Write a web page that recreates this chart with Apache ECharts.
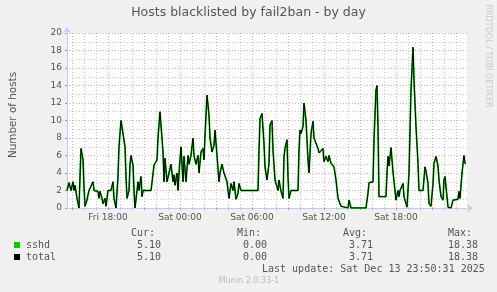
<!DOCTYPE html>
<html>
<head>
<meta charset="utf-8">
<script src="https://cdn.jsdelivr.net/npm/echarts@6/dist/echarts.min.js"></script>
<style>
html,body{margin:0;padding:0;background:#f0f0f0;}
#c{width:497px;height:292px;}
</style>
</head>
<body>
<div id="c"></div>
<script>
// ---- data ----
const times = [
"Fri 14:35","Fri 14:45","Fri 14:50","Fri 14:55","Fri 15:05","Fri 15:10","Fri 15:15","Fri 15:25","Fri 15:35","Fri 15:40",
"Fri 15:45","Fri 15:55","Fri 16:00","Fri 16:05","Fri 16:15","Fri 16:20","Fri 16:25","Fri 16:35","Fri 16:45","Fri 16:50",
"Fri 17:00","Fri 17:10","Fri 17:15","Fri 17:20","Fri 17:30","Fri 17:35","Fri 17:45","Fri 17:50","Fri 18:00","Fri 18:05",
"Fri 18:15","Fri 18:25","Fri 18:30","Fri 18:40","Fri 18:50","Fri 18:55","Fri 19:05","Fri 19:15","Fri 19:25","Fri 19:30",
"Fri 19:35","Fri 19:45","Fri 19:50","Fri 19:55","Fri 20:05","Fri 20:10","Fri 20:15","Fri 20:25","Fri 20:30","Fri 20:35",
"Fri 20:45","Fri 20:50","Fri 20:55","Fri 21:05","Fri 21:20","Fri 21:35","Fri 21:40","Fri 21:50","Fri 21:55","Fri 22:05",
"Fri 22:10","Fri 22:20","Fri 22:25","Fri 22:35","Fri 22:40","Fri 22:45","Fri 22:55","Fri 23:05","Fri 23:15","Fri 23:25",
"Fri 23:30","Fri 23:35","Fri 23:45","Fri 23:50","Fri 23:55","Sat 00:05","Sat 00:15","Sat 00:20","Sat 00:30","Sat 00:40",
"Sat 00:45","Sat 00:55","Sat 01:05","Sat 01:10","Sat 01:20","Sat 01:30","Sat 01:35","Sat 01:45","Sat 01:55","Sat 02:00",
"Sat 02:05","Sat 02:15","Sat 02:25","Sat 02:30","Sat 02:40","Sat 02:50","Sat 02:55","Sat 03:05","Sat 03:15","Sat 03:20",
"Sat 03:30","Sat 03:40","Sat 03:45","Sat 03:55","Sat 04:00","Sat 04:05","Sat 04:15","Sat 04:25","Sat 04:30","Sat 04:40",
"Sat 04:50","Sat 04:55","Sat 05:05","Sat 05:10","Sat 06:30","Sat 06:35","Sat 06:40","Sat 06:50","Sat 07:00","Sat 07:05",
"Sat 07:15","Sat 07:25","Sat 07:30","Sat 07:40","Sat 07:45","Sat 07:55","Sat 08:00","Sat 08:10","Sat 08:15","Sat 08:25",
"Sat 08:35","Sat 08:40","Sat 08:45","Sat 08:55","Sat 09:00","Sat 09:05","Sat 09:15","Sat 09:50","Sat 09:55","Sat 10:00",
"Sat 10:05","Sat 10:15","Sat 10:20","Sat 10:30","Sat 10:40","Sat 10:45","Sat 10:55","Sat 11:05","Sat 11:10","Sat 11:20",
"Sat 11:30","Sat 11:35","Sat 11:45","Sat 11:55","Sat 12:00","Sat 12:10","Sat 12:20","Sat 12:25","Sat 12:35","Sat 12:45",
"Sat 12:50","Sat 13:00","Sat 13:10","Sat 13:15","Sat 13:25","Sat 13:35","Sat 14:00","Sat 14:05","Sat 14:15","Sat 15:30",
"Sat 15:40","Sat 15:45","Sat 16:05","Sat 16:10","Sat 16:20","Sat 16:25","Sat 16:30","Sat 16:35","Sat 16:45","Sat 17:10",
"Sat 17:15","Sat 17:20","Sat 17:25","Sat 17:35","Sat 17:40","Sat 17:45","Sat 17:55","Sat 18:00","Sat 18:10","Sat 18:15",
"Sat 18:20","Sat 18:25","Sat 18:35","Sat 18:40","Sat 18:50","Sat 18:55","Sat 19:05","Sat 19:15","Sat 19:25","Sat 19:30",
"Sat 19:40","Sat 19:50","Sat 19:55","Sat 20:15","Sat 20:25","Sat 20:30","Sat 20:40","Sat 20:45","Sat 20:55","Sat 21:05",
"Sat 21:10","Sat 21:20","Sat 21:30","Sat 21:35","Sat 21:45","Sat 21:55","Sat 22:00","Sat 22:05","Sat 22:15","Sat 22:20",
"Sat 22:25","Sat 22:35","Sat 22:45","Sat 22:50","Sat 23:10","Sat 23:15","Sat 23:20","Sat 23:30","Sat 23:40","Sat 23:45",
"Sat 23:50"
];
const hosts = [
2,2.9,2.9,2,3,2,2.6,1.1,0,3.6,
6.8,5.5,2.4,0.2,0.9,1.5,2,2,3,2,
2,1.9,1.1,1.9,1.1,0.5,1.1,0.2,2,2,
2,3,1.1,0,3.6,7,10,10,7,3.6,
1.1,2,4.9,6,4.9,2,0,2,3,2,
3.6,1.3,2,2,2,2,2.9,4.9,5,5.5,
8,11,11,6.4,3,5.7,3,3,5,3,
3.8,2.6,4,2,4,7,3,5.9,3,6,
5,6,8,6,5,6,4,6.4,6.8,5.5,
8.3,12.9,10.6,8,6.4,7.2,8.9,6,3,4,
5,4,4,3,3,1.1,2.8,2,3,1,
1.7,2.8,2,2,2,6.6,10.2,10.8,7.4,4.7,
3.2,5.1,9.5,10,6.6,3.2,3,2,3.2,1.9,
1.1,5.9,6.8,7.8,3.6,1.1,2,2,6.6,8.9,
8.5,9.3,12,10,5.5,4,8.5,9.9,8,7.8,
6.8,6.3,6.1,6.8,5.3,5.9,5.3,6,5.1,4.9,
4.7,3.2,1.1,1,0.2,0,0,0.9,0,0,
1.7,2.9,3,7.8,13.5,14,9.3,1.3,1.1,1.3,
4,5.9,4.8,6.9,6.8,4.1,4,0.9,2,1.3,
2,1.9,2.8,1.3,0.5,0.1,4,13.5,18.38,14.6,
9.3,5.1,2,2,4.7,4.2,2.8,0.5,0.2,2.8,
5.1,5.9,4.8,3.2,1.3,0.9,3.2,3.6,1.3,0.1,
0,0,0.9,1,1,1.9,1.1,4,6,5.1,
5.1
];
const xTickLabels = ["Fri 18:00","Sat 00:00","Sat 06:00","Sat 12:00","Sat 18:00"];
const seriesNames = ["sshd","total"];
const seriesColors = ["#00cc00","#000000"];
const statHeaders = ["Cur:","Min:","Avg:","Max:"];
const statRows = [["5.10","0.00","3.71","18.38"],["5.10","0.00","3.71","18.38"]];
const titleText = "Hosts blacklisted by fail2ban - by day";
const yName = "Number of hosts";
const lastUpdate = "Last update: Sat Dec 13 23:50:31 2025";
const footer = "Munin 2.0.33-1";
const sideText = "RRDTOOL / TOBI OETIKER";
const rangeStart = "Fri 14:35";
const rangeEnd = "Sat 23:55";

function toHours(s){
  const [d,t]=s.split(" "); const [h,m]=t.split(":").map(Number);
  return (d==="Sat"?24:0)+h+m/60;
}
const xMin = toHours(rangeStart), xMax = toHours(rangeEnd);
const pts = times.map((t,i)=>[toHours(t),hosts[i]]);
const hourVals=[], threeVals=[];
for(let h=Math.ceil(xMin);h<=xMax;h++){ if(h%3===0) threeVals.push(h); else hourVals.push(h); }
const labelVals = xTickLabels.map(toHours);

const mono = "'DejaVu Sans Mono', monospace";
const sans = "'DejaVu Sans', sans-serif";
const txtCol = "#555";
const majorGrid = "#eaa9a9";
const minorGrid = "#c8c8c8";
const axisCol = "#c8c8f4";

const chart = echarts.init(document.getElementById('c'),null,{renderer:'canvas'});
const graphics = [
  {type:'text',x:248.5,y:13,style:{text:titleText,font:"12.5px "+sans,fill:txtCol,align:'center',verticalAlign:'middle'}},
  {type:'text',x:13,y:115,rotation:Math.PI/2,style:{text:yName,font:"10.4px "+sans,fill:txtCol,align:'center',verticalAlign:'middle'}},
  {type:'text',x:488,y:56,rotation:-Math.PI/2,style:{text:sideText,font:"8px "+sans,fill:"#c8c8c8",align:'center',verticalAlign:'middle'}},
];
const colX = [[131,137],[237,243],[343,349],[448,448]];
statHeaders.forEach((h,i)=>graphics.push({type:'text',x:colX[i][0],y:233,style:{text:h,font:"10px "+mono,fill:txtCol,verticalAlign:'middle'}}));
seriesNames.forEach((n,r)=>{
  const y=245+r*12;
  graphics.push({type:'rect',shape:{x:14,y:y-3,width:6,height:6},style:{fill:seriesColors[r]}});
  graphics.push({type:'text',x:26,y:y,style:{text:n,font:"10px "+mono,fill:txtCol,verticalAlign:'middle'}});
  statRows[r].forEach((v,i)=>graphics.push({type:'text',x:colX[i][1],y:y,style:{text:v,font:"10px "+mono,fill:txtCol,verticalAlign:'middle'}}));
});
graphics.push({type:'text',x:262,y:269,style:{text:lastUpdate,font:"10px "+mono,fill:txtCol,verticalAlign:'middle'}});
graphics.push({type:'text',x:249,y:281,style:{text:footer,font:"8px "+sans,fill:"#bbbbbb",align:'center',verticalAlign:'middle'}});

chart.setOption({
  backgroundColor:'#f0f0f0',
  animation:false,
  grid:{left:67,top:33,width:400,height:175,show:true,backgroundColor:'#ffffff',borderWidth:0},
  xAxis:[
    {type:'value',min:xMin,max:xMax,z:3,
     axisLine:{show:true,lineStyle:{color:axisCol,width:1},symbol:['none','arrow'],symbolSize:[6,6],symbolOffset:[0,6]},
     axisTick:{show:true,customValues:threeVals,length:2,inside:false,lineStyle:{color:'#e08080'}},
     axisLabel:{customValues:labelVals,formatter:(v)=>xTickLabels[labelVals.indexOf(v)]||'',color:txtCol,fontFamily:sans,fontSize:9,margin:5},
     splitLine:{show:true,lineStyle:{color:majorGrid,type:[1,2],width:1}}},
    {type:'value',min:xMin,max:xMax,z:1,position:'bottom',
     axisLine:{show:false},
     axisTick:{show:true,customValues:hourVals,length:2,lineStyle:{color:'#bbbbbb'}},
     axisLabel:{show:false},
     splitLine:{show:true,lineStyle:{color:minorGrid,type:[1,2],width:1}}}
  ],
  yAxis:{type:'value',min:0,max:20,interval:2,z:3,
     axisLine:{show:true,lineStyle:{color:axisCol,width:1},symbol:['none','arrow'],symbolSize:[6,6],symbolOffset:[0,6]},
     axisTick:{show:true,length:2,lineStyle:{color:'#e08080'}},
     minorTick:{show:false,splitNumber:2},
     axisLabel:{color:txtCol,fontFamily:sans,fontSize:9,margin:5},
     splitLine:{show:true,lineStyle:{color:majorGrid,type:[1,2]}},
     minorSplitLine:{show:true,lineStyle:{color:minorGrid,type:[1,2]}}},
  series:[
    {name:seriesNames[0],type:'line',data:pts,symbol:'none',lineStyle:{color:seriesColors[0],width:1.8},z:4},
    {name:seriesNames[1],type:'line',data:pts,symbol:'none',lineStyle:{color:seriesColors[1],width:1},z:5}
  ],
  graphic:graphics
});
</script>
</body>
</html>
